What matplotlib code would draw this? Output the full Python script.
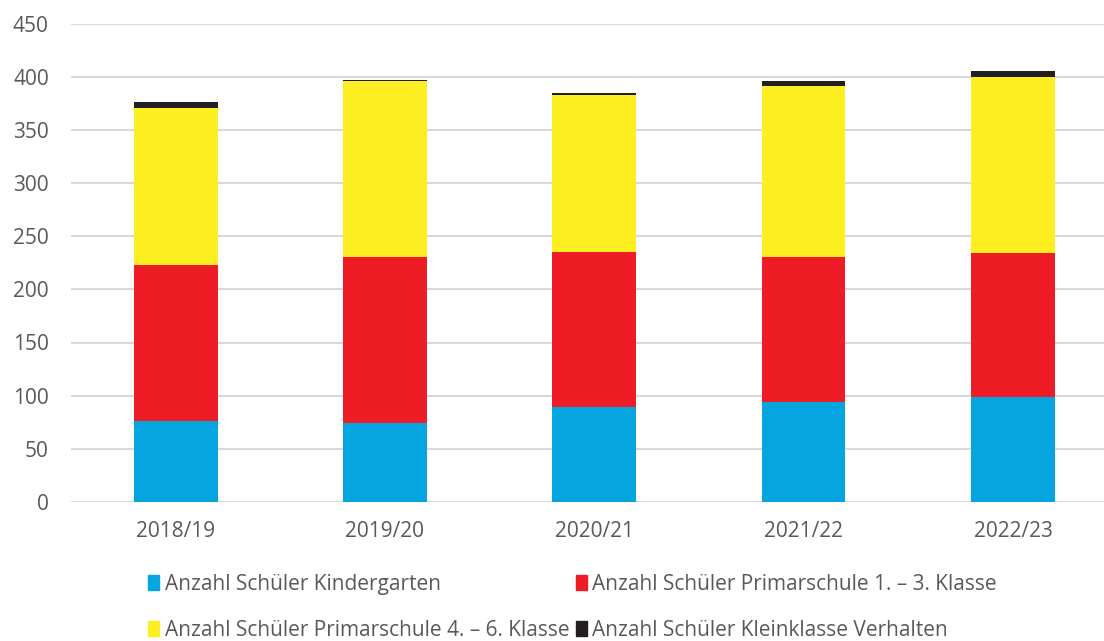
import matplotlib.pyplot as plt
from matplotlib.patches import Patch

plt.rcParams['font.family'] = ['Open Sans', 'DejaVu Sans']

years = ["2018/19", "2019/20", "2020/21", "2021/22", "2022/23"]
kindergarten = [76, 74, 89, 94, 99]
primar_1_3 = [147, 156, 146, 136, 135]
primar_4_6 = [148, 166, 148, 161, 166]
kleinklasse = [5, 1, 2, 5, 5]

labels = [
    "Anzahl Schüler Kindergarten",
    "Anzahl Schüler Primarschule 1. – 3. Klasse",
    "Anzahl Schüler Primarschule 4. – 6. Klasse",
    "Anzahl Schüler Kleinklasse Verhalten",
]
colors = ["#05A6DF", "#EE1C25", "#FCEE21", "#231F20"]
text_color = "#595959"

fig = plt.figure(figsize=(11.04, 6.41), dpi=100)
ax = fig.add_axes([71 / 1104, 1 - 502 / 641, 1046.6 / 1104, (502 - 23.5) / 641])

x = range(len(years))
bottom = [0] * len(years)
for vals, col in zip([kindergarten, primar_1_3, primar_4_6, kleinklasse], colors):
    ax.bar(x, vals, width=0.4, bottom=bottom, color=col, zorder=3)
    bottom = [b + v for b, v in zip(bottom, vals)]

ax.set_xlim(-0.5, 4.5)
ax.set_ylim(0, 450)
ax.set_yticks(range(0, 451, 50))
ax.set_xticks(list(x))
ax.set_xticklabels(years)
ax.grid(axis="y", color="#D9D9D9", linewidth=1.5, zorder=0)
for s in ax.spines.values():
    s.set_visible(False)
ax.tick_params(length=0, labelsize=15, colors=text_color)
ax.tick_params(axis="x", pad=14)
ax.tick_params(axis="y", pad=16)

handles = [Patch(color=c) for c in colors]
order = [0, 2, 1, 3]
fig.legend([handles[i] for i in order], [labels[i] for i in order],
           ncol=2, loc="upper left", bbox_to_anchor=(148 / 1104, 1 - 574 / 641),
           frameon=False, fontsize=15, labelcolor=text_color,
           handlelength=0.55, handleheight=0.75, handletextpad=0.25,
           columnspacing=0.3, labelspacing=1.2, borderaxespad=0, borderpad=0)

fig.savefig("out.png", dpi=100)
